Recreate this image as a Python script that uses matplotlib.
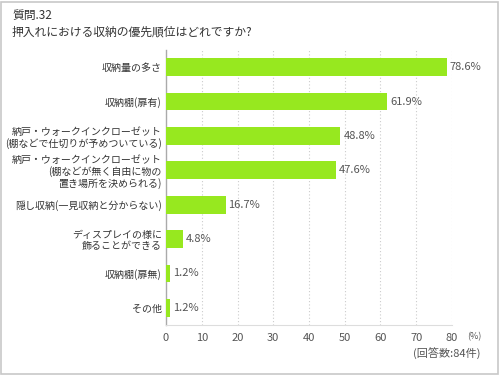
import matplotlib
matplotlib.use("Agg")
import matplotlib.pyplot as plt
from matplotlib.patches import Rectangle

plt.rcParams['font.family'] = ['Noto Sans CJK JP', 'DejaVu Sans']

categories = [
    "収納量の多さ",
    "収納棚(扉有)",
    "納戸・ウォークインクローゼット\n(棚などで仕切りが予めついている)",
    "納戸・ウォークインクローゼット\n(棚などが無く自由に物の\n置き場所を決められる)",
    "隠し収納(一見収納と分からない)",
    "ディスプレイの様に\n飾ることができる",
    "収納棚(扉無)",
    "その他",
]
values = [78.6, 61.9, 48.8, 47.6, 16.7, 4.8, 1.2, 1.2]
xticks = [0, 10, 20, 30, 40, 50, 60, 70, 80]

fig = plt.figure(figsize=(5, 3.75), dpi=100)
fig.patches.append(Rectangle((0.002, 0.003), 0.994, 0.993, transform=fig.transFigure,
                             fill=False, edgecolor='#c8c8c8', linewidth=1.2))
ax = fig.add_axes([0.332, 0.1333, 0.572, 0.7334])

y = list(range(len(categories)))
ax.barh(y, values, height=0.52, color='#97e81f', edgecolor='none', zorder=3)
for yi, v in zip(y, values):
    ax.text(v + 0.8, yi, f"{v}%", va='center', ha='left', fontsize=8, color='#555555')

ax.set_ylim(len(categories) - 0.5, -0.5)
ax.set_xlim(0, 80)
ax.set_yticks(y)
ax.set_yticklabels(categories, fontsize=7.2, color='#333333', linespacing=1.15,
                   multialignment='right')
ax.set_xticks(xticks)
ax.set_xticklabels([str(t) for t in xticks], fontsize=8, color='#555555')
ax.tick_params(axis='both', length=0, pad=3)
ax.tick_params(axis='x', pad=6)
for t in xticks[1:]:
    ax.axvline(t, color='#cccccc', linestyle=(0, (1, 2)), linewidth=0.8, zorder=1)
for s in ['top', 'right']:
    ax.spines[s].set_visible(False)
ax.spines['left'].set_color('#aaaaaa')
ax.spines['bottom'].set_color('#dddddd')
ax.spines['left'].set_linewidth(1.0)

fig.text(0.948, 0.103, "(%)", fontsize=6.5, color='#555555', ha='center', va='center')
fig.text(0.962, 0.057, "(回答数:84件)", fontsize=8, color='#555555', ha='right', va='center')
fig.text(0.024, 0.958, "質問.32", fontsize=8.5, color='#333333', ha='left', va='center')
fig.text(0.024, 0.915, "押入れにおける収納の優先順位はどれですか?", fontsize=8.5, color='#333333', ha='left', va='center')

fig.savefig("out.png", dpi=100)
